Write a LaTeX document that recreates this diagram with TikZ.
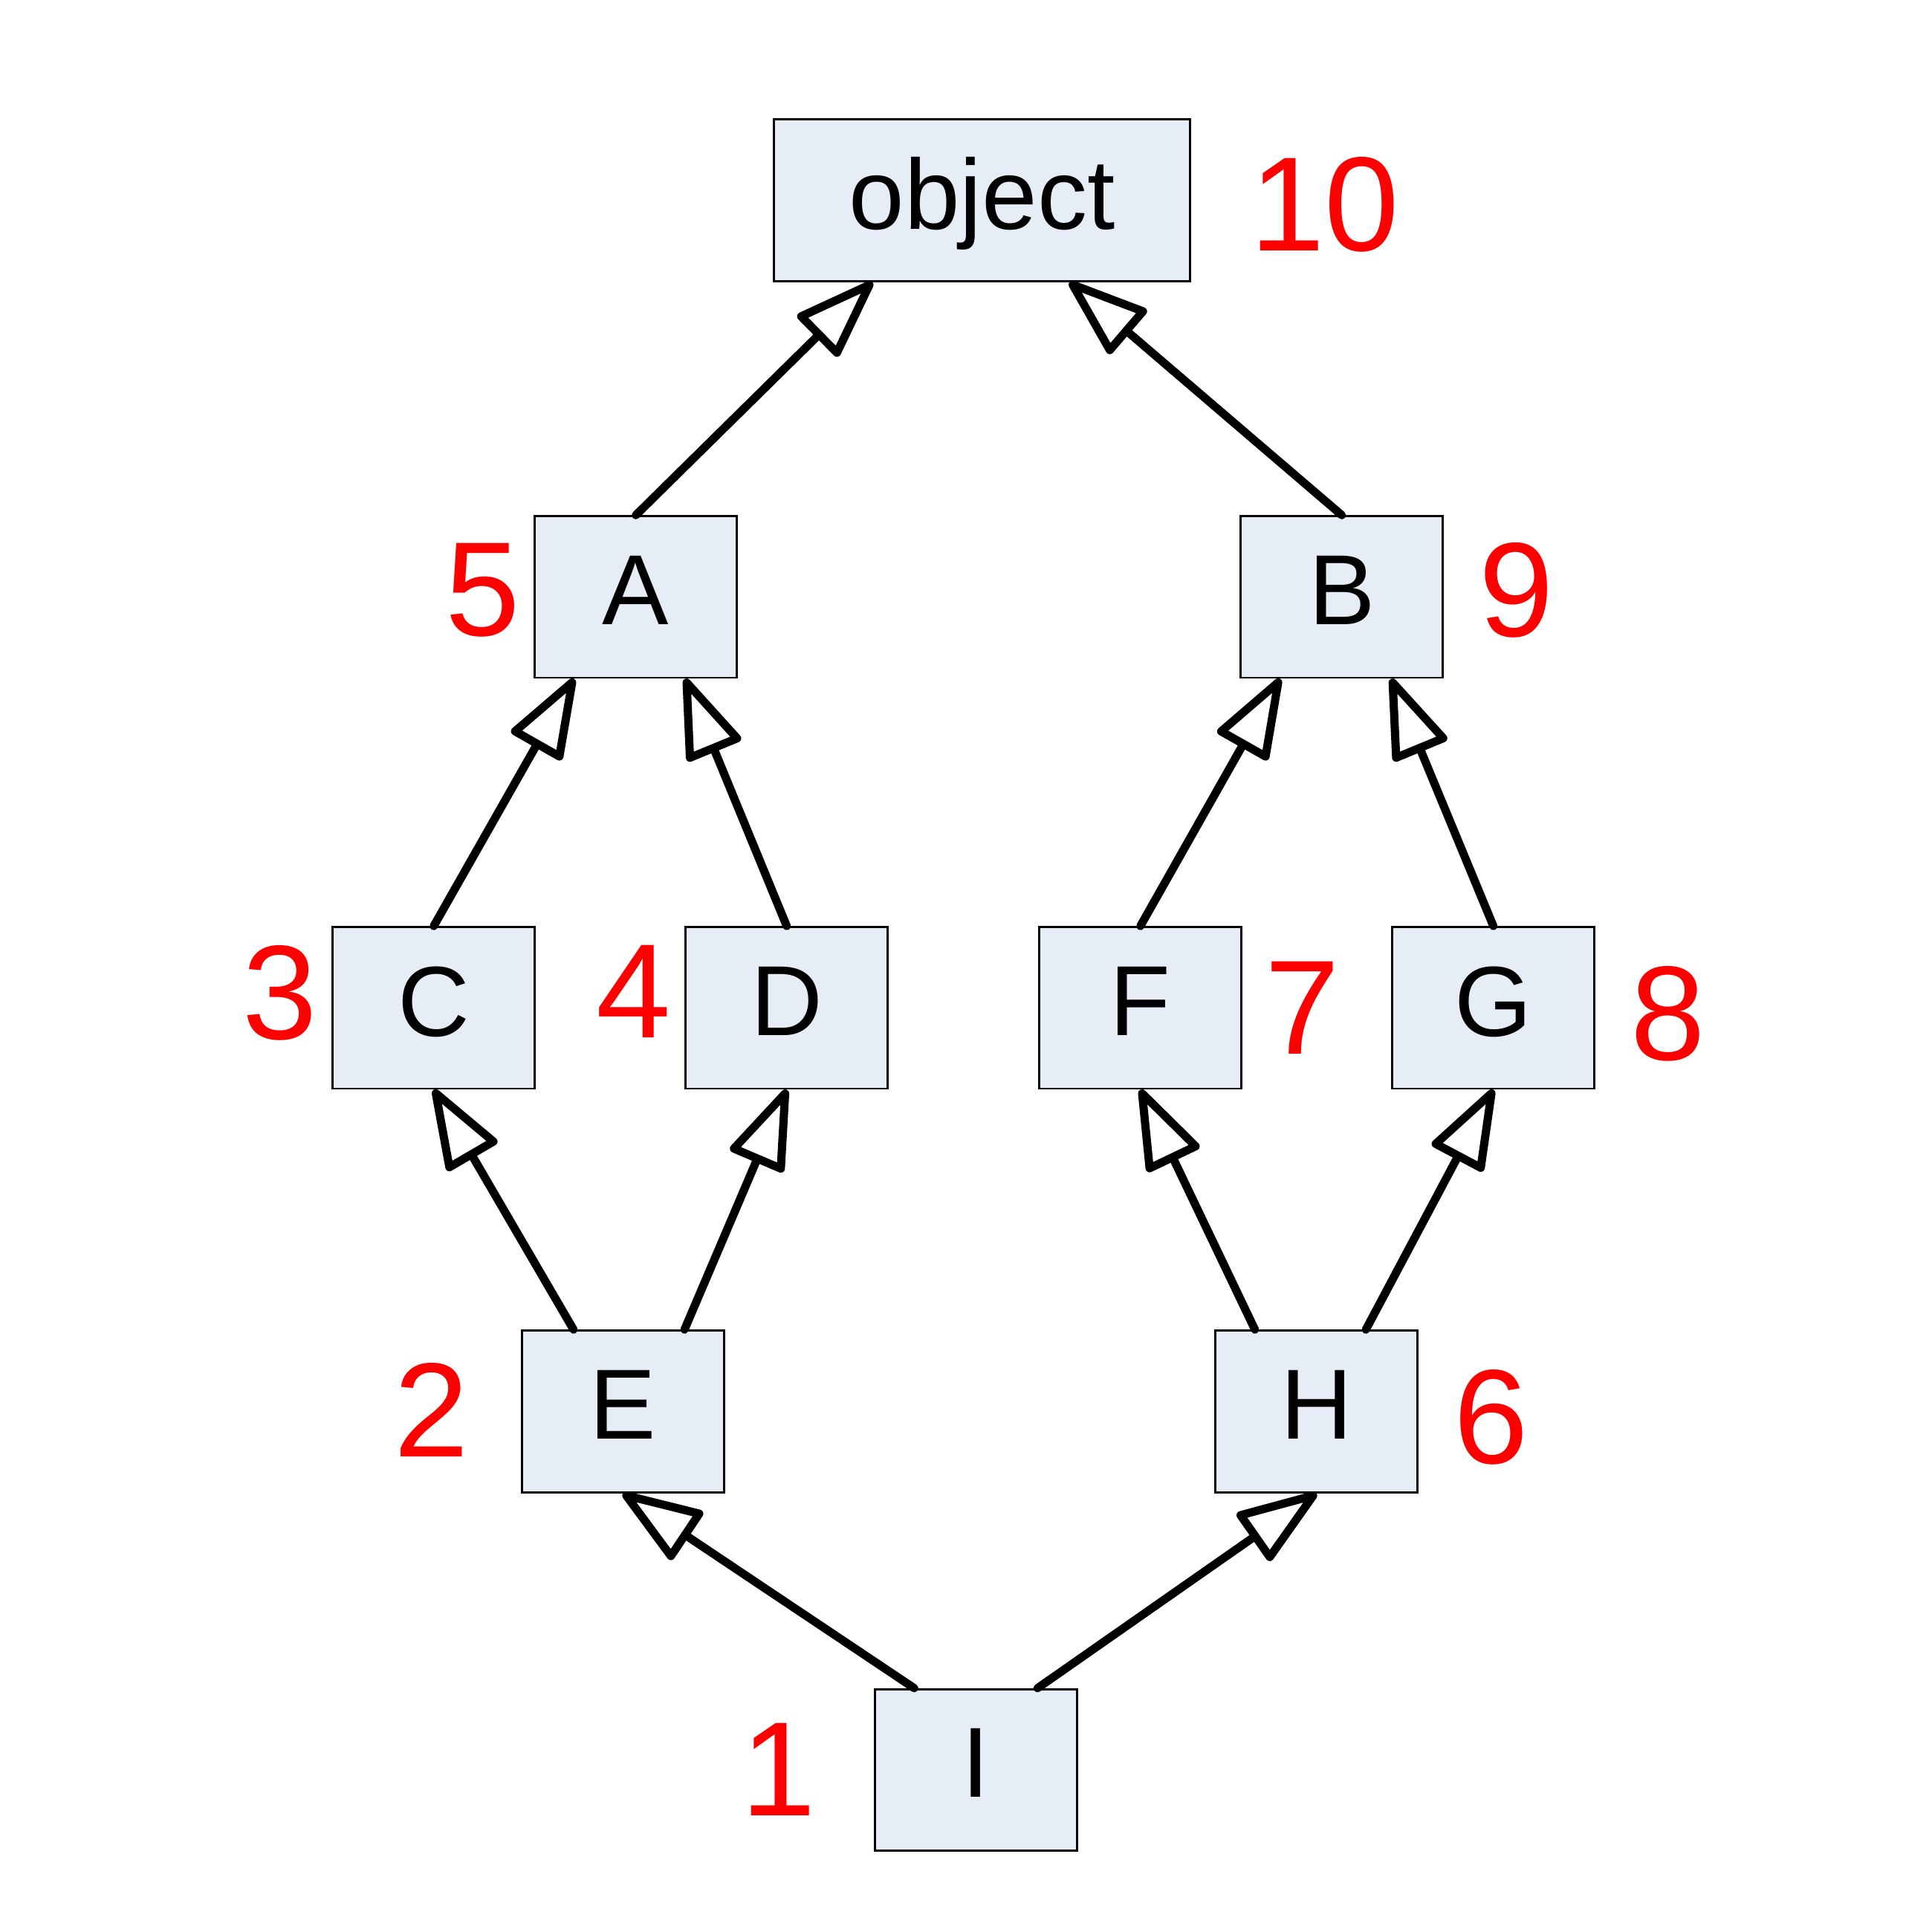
\documentclass[tikz,border=0pt]{standalone}
\usepackage{fontspec}
\setmainfont{Liberation Sans}
\usepackage{tikz}
\usetikzlibrary{arrows.meta}
\usepackage{xcolor}
\definecolor{boxfill}{HTML}{E6EDF7}

\begin{document}
\begin{tikzpicture}[
    cls/.style={draw=black, line width=0.5pt, fill=boxfill, inner sep=0pt,
        minimum width=1.64cm, minimum height=1.31cm, text depth=1.1mm,
        font=\fontsize{23}{28}\selectfont},
    num/.style={text=red, inner sep=0pt, font=\fontsize{31}{36}\selectfont},
    inherit/.style={-{Triangle[open, length=7.1mm, width=4.9mm, line join=round]},
        line width=1.9pt, line cap=round, line join=round}
]
    \useasboundingbox (0, 0) rectangle (15.68, -15.68);

    \node[cls, minimum width=3.38cm] (object) at (7.97, -1.625) {object};
    \node[cls] (A) at (5.16, -4.845) {A};
    \node[cls] (B) at (10.89, -4.845) {B};
    \node[cls] (C) at (3.52, -8.18) {C};
    \node[cls] (D) at (6.385, -8.18) {D};
    \node[cls] (F) at (9.255, -8.18) {F};
    \node[cls] (G) at (12.12, -8.18) {G};
    \node[cls] (E) at (5.055, -11.455) {E};
    \node[cls] (H) at (10.685, -11.455) {H};
    \node[cls] (I) at (7.92, -14.365) {I};

    \node[num] (n10) at (10.75, -1.66) {10};
    \node[num] (n5) at (3.92, -4.79) {5};
    \node[num] (n9) at (12.31, -4.79) {9};
    \node[num] (n3) at (2.27, -8.06) {3};
    \node[num] (n4) at (5.14, -8.05) {4};
    \node[num] (n7) at (10.57, -8.18) {7};
    \node[num] (n8) at (13.54, -8.23) {8};
    \node[num] (n2) at (3.50, -11.44) {2};
    \node[num] (n6) at (12.10, -11.50) {6};
    \node[num] (n1) at (6.32, -14.36) {1};

    \path[inherit] (A.north) edge ([xshift=-8.9mm]object.south)
              (B.north) edge ([xshift=7.1mm]object.south)
              (C.north) edge ([xshift=-5mm]A.south)
              (D.north) edge ([xshift=4mm]A.south)
              (F.north) edge ([xshift=-5mm]B.south)
              (G.north) edge ([xshift=4mm]B.south)
              ([xshift=-4mm]E.north) edge (C.south)
              ([xshift=5mm]E.north) edge (D.south)
              ([xshift=-5mm]H.north) edge (F.south)
              ([xshift=4mm]H.north) edge (G.south)
              ([xshift=-5mm]I.north) edge (E.south)
              ([xshift=5mm]I.north) edge (H.south);
\end{tikzpicture}
\end{document}
